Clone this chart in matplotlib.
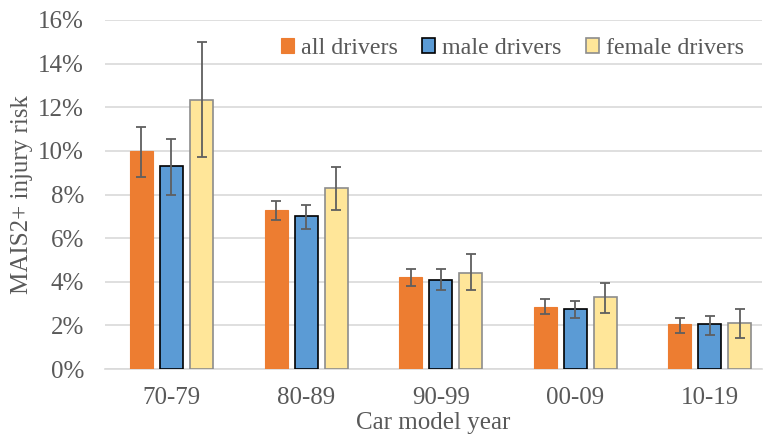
import matplotlib.pyplot as plt
import numpy as np
from matplotlib.ticker import PercentFormatter

# ---------------- data (values in %) ----------------
years = ["70-79", "80-89", "90-99", "00-09", "10-19"]

all_risk = [10.0, 7.3, 4.2, 2.85, 2.05]
all_hi = [11.1, 7.7, 4.6, 3.2, 2.35]
all_lo = [8.8, 6.85, 3.8, 2.5, 1.65]

male_risk = [9.3, 7.0, 4.1, 2.75, 2.05]
male_hi = [10.55, 7.5, 4.6, 3.1, 2.45]
male_lo = [8.0, 6.4, 3.6, 2.35, 1.55]

female_risk = [12.35, 8.3, 4.4, 3.28, 2.1]
female_hi = [15.0, 9.25, 5.25, 3.95, 2.75]
female_lo = [9.7, 7.3, 3.6, 2.55, 1.4]

labels = ["all drivers", "male drivers", "female drivers"]

# ---------------- style ----------------
txt = "#595959"
fs = 18
plt.rcParams['font.family'] = ['Liberation Serif', 'DejaVu Serif']

fig = plt.figure(figsize=(7.64, 4.37), dpi=100)
ax = fig.add_axes([105 / 764, 1 - 369 / 437, 657 / 764, 349 / 437])

x = np.arange(len(years))
w = 0.171
pitch = 0.223

series = [
    (all_risk, all_hi, all_lo, "#ED7D31", "#ED7D31", 0.8),
    (male_risk, male_hi, male_lo, "#5B9BD5", "#000000", 1.2),
    (female_risk, female_hi, female_lo, "#FFE699", "#8C8C8C", 1.2),
]

for i, (vals, hi, lo, fc, ec, lw) in enumerate(series):
    vals = np.array(vals)
    err = [vals - np.array(lo), np.array(hi) - vals]
    ax.bar(x + (i - 1) * pitch, vals, width=w, color=fc, edgecolor=ec,
           linewidth=lw, label=labels[i], zorder=3,
           yerr=err, error_kw=dict(ecolor="#5f5f5f", elinewidth=1.3,
                                   capsize=3.5, capthick=1.3, zorder=4))

ax.set_ylim(0, 16)
ax.set_xlim(-0.494, 4.387)
ax.set_yticks(np.arange(0, 17, 2))
ax.yaxis.set_major_formatter(PercentFormatter(decimals=0))
ax.set_xticks(x)
ax.set_xticklabels(years)
ax.grid(axis="y", color="#d9d9d9", linewidth=1.2, zorder=0)
ax.tick_params(length=0, labelsize=fs, colors=txt)
ax.tick_params(axis="y", pad=15)
ax.tick_params(axis="x", pad=13)
for s in ["top", "right", "left"]:
    ax.spines[s].set_visible(False)
ax.spines["bottom"].set_color("#d9d9d9")
ax.spines["bottom"].set_linewidth(1.2)

ax.set_ylabel("MAIS2+ injury risk", fontsize=fs, color=txt, labelpad=4)
ax.set_xlabel("Car model year", fontsize=fs, color=txt, labelpad=2)

leg = ax.legend(loc="upper right", bbox_to_anchor=(0.995, 0.99), ncol=3,
                frameon=False, fontsize=17.3, labelcolor=txt,
                handlelength=0.55, handleheight=0.55, handletextpad=0.3,
                columnspacing=1.0, borderaxespad=0.2)

fig.savefig("out.png", dpi=100)
